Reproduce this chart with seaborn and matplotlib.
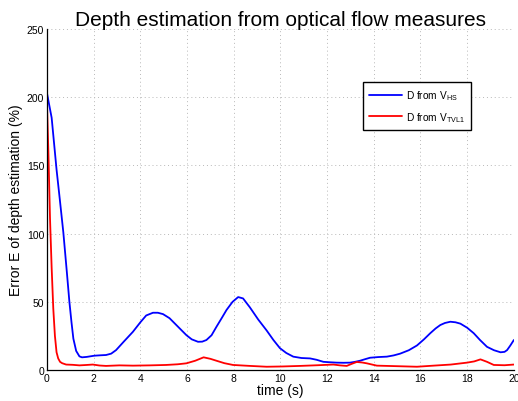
import matplotlib
matplotlib.use("Agg")
import matplotlib.pyplot as plt
import seaborn as sns
import pandas as pd

# Depth error of the Horn-Schunck flow estimate (%)
t_hs = [0.0, 0.2, 0.41, 0.55, 0.70, 0.85, 0.96, 1.05, 1.13, 1.25, 1.39, 1.5, 1.7, 2.03, 2.3, 2.53,
        2.75, 2.96, 3.3, 3.68, 4.0, 4.25, 4.54, 4.75, 4.97, 5.25, 5.54, 5.97, 6.2, 6.47, 6.65,
        6.83, 7.05, 7.26, 7.5, 7.69, 7.95, 8.19, 8.4, 8.69, 9.05, 9.41, 9.7, 9.98, 10.25, 10.55,
        10.9, 11.27, 11.55, 11.84, 12.1, 12.41, 12.7, 12.98, 13.2, 13.41, 13.6, 13.84, 14.2,
        14.56, 14.85, 15.13, 15.5, 15.85, 16.15, 16.42, 16.65, 16.85, 17.05, 17.28, 17.5, 17.71,
        18.0, 18.28, 18.55, 18.85, 19.15, 19.43, 19.6, 19.71, 19.85, 20.0]
e_hs = [203, 185, 147, 125, 101, 72, 50, 35, 23, 14, 10, 9.3, 9.6, 10.5, 10.8, 11,
        12, 14.6, 21, 28, 35, 40, 42, 42, 41, 38, 33, 25.6, 22.5, 20.7, 20.8,
        22, 25.5, 31.7, 38.5, 44, 50, 53.5, 52.5, 46, 37, 29, 22, 16, 12.5, 9.8,
        8.8, 8.5, 7.5, 6, 5.7, 5.4, 5.3, 5.4, 6, 6.8, 7.8, 9, 9.5,
        9.8, 10.7, 12, 14.5, 18, 22.5, 27, 30.5, 33, 34.5, 35.4, 35, 34,
        31, 27, 22, 17, 14.5, 13, 13.3, 14.6, 18, 22]

# Depth error of the TV-L1 flow estimate (%)
t_tv = [0.0, 0.06, 0.13, 0.2, 0.27, 0.34, 0.41, 0.48, 0.56, 0.65, 0.82, 1.1, 1.39, 1.7, 1.96,
        2.25, 2.53, 3.1, 3.68, 4.4, 5.1, 5.6, 5.97, 6.35, 6.71, 7.0, 7.26, 7.6, 7.97, 8.7, 9.41,
        10.1, 10.84, 11.6, 12.27, 12.55, 12.84, 13.05, 13.27, 13.5, 13.7, 14.13, 15.0, 15.85,
        16.56, 17.3, 17.99, 18.3, 18.57, 18.85, 19.14, 19.6, 20.0]
e_tv = [195, 160, 111, 75, 45, 25, 13, 8.5, 6, 5, 4, 3.8, 3.4, 3.7, 4,
        3.3, 3, 3.4, 3.2, 3.4, 3.7, 4.2, 4.9, 6.8, 9.3, 8.2, 6.8, 5, 3.7, 3, 2.4,
        2.6, 3, 3.5, 4, 3.4, 3, 4.5, 5.9, 5.5, 4.9, 3.2, 2.8, 2.4,
        3.2, 4, 5.4, 6.3, 7.8, 6, 3.7, 3.5, 4]

labels = [r"D from V$_{\mathrm{HS}}$", r"D from V$_{\mathrm{TVL1}}$"]
colors = ["#0000ff", "#ff0000"]

x_ticks = list(range(0, 21, 2))
y_ticks = list(range(0, 251, 50))

df = pd.concat([
    pd.DataFrame({"time": t_hs, "error": e_hs, "series": labels[0]}),
    pd.DataFrame({"time": t_tv, "error": e_tv, "series": labels[1]}),
], ignore_index=True)

sns.set_style("white")
plt.rcParams["font.family"] = ["Liberation Sans", "DejaVu Sans"]
plt.rcParams["mathtext.fontset"] = "custom"
plt.rcParams["mathtext.rm"] = "Liberation Sans"
plt.rcParams["mathtext.it"] = "Liberation Sans"
plt.rcParams["text.color"] = "black"
plt.rcParams["axes.labelcolor"] = "black"

fig = plt.figure(figsize=(5.18, 4.02), dpi=100)
ax = fig.add_axes([0.0907, 0.0771, 0.9013, 0.8479])

sns.lineplot(data=df, x="time", y="error", hue="series", palette=dict(zip(labels, colors)),
             estimator=None, sort=False, linewidth=1.3, ax=ax)

ax.set_xlim(0, 20)
ax.set_ylim(0, 250)
ax.set_xticks(x_ticks)
ax.set_yticks(y_ticks)
ax.tick_params(axis="both", direction="in", length=4, width=0.8, labelsize=7.5, pad=2,
               colors="black")
ax.grid(True, linestyle=(0, (1, 3)), color="#b8b8b8", linewidth=0.7)
for side in ("top", "right"):
    ax.spines[side].set_visible(False)
for side in ("left", "bottom"):
    ax.spines[side].set_color("black")
    ax.spines[side].set_linewidth(0.9)

ax.set_title("Depth estimation from optical flow measures", fontsize=15, pad=3, color="black")
ax.set_xlabel("time (s)", fontsize=10, labelpad=0)
ax.set_ylabel("Error E of depth estimation (%)", fontsize=10, labelpad=3)

leg = ax.legend(title=None, loc="upper left", bbox_to_anchor=(0.665, 0.86), fontsize=7.3,
                frameon=True, fancybox=False, framealpha=1, edgecolor="black",
                handlelength=3.2, borderpad=0.65, labelspacing=0.75, handletextpad=0.4)
leg.get_frame().set_linewidth(1.0)

fig.savefig("out.png", dpi=100)
